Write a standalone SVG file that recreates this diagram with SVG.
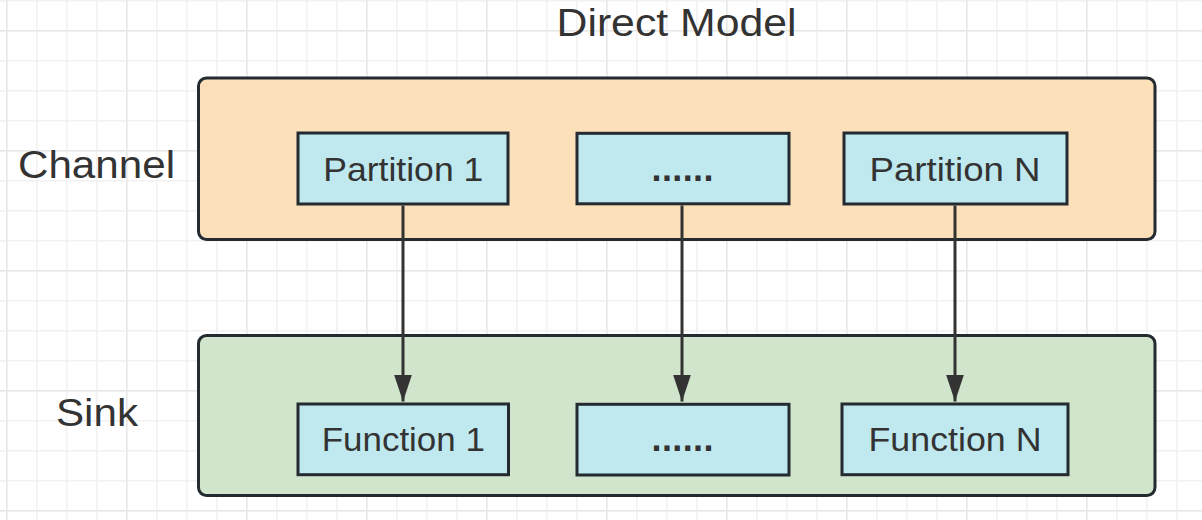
<svg xmlns="http://www.w3.org/2000/svg" width="1202" height="520" viewBox="0 0 1202 520">
  <defs>
    <pattern id="gridMinor" patternUnits="userSpaceOnUse" x="6" y="0" width="30" height="30">
      <path d="M0.75 0 V30 M0 0.75 H30" fill="none" stroke="#f1f1f1" stroke-width="1.5"/>
    </pattern>
    <pattern id="gridMajor" patternUnits="userSpaceOnUse" x="6" y="30" width="120" height="120">
      <path d="M0.75 0 V120 M0 0.75 H120" fill="none" stroke="#e8e8e8" stroke-width="1.5"/>
    </pattern>
    <marker id="arrow" markerUnits="userSpaceOnUse" markerWidth="28" markerHeight="20" refX="27" refY="9" orient="auto">
      <path d="M0 0 L27 9 L0 18 Z" fill="#333333"/>
    </marker>
    <style>
      .group { stroke: #232a30; stroke-width: 3; }
      .channel { fill: #fbe0ba; }
      .sink { fill: #d0e5cc; }
      .box { fill: #bfe9ef; stroke: #232a30; stroke-width: 3; }
      .label { font-family: "Liberation Sans", Arial, sans-serif; fill: #333333; text-anchor: middle; }
      .boxtext { font-size: 33px; }
      .side { font-size: 38px; text-anchor: start; }
      .dots { font-size: 36px; font-weight: bold; }
      .conn { stroke: #333333; stroke-width: 3; fill: none; }
    </style>
  </defs>

  <rect x="0" y="0" width="1202" height="520" fill="#ffffff"/>
  <rect x="0" y="0" width="1202" height="520" fill="url(#gridMinor)"/>
  <rect x="0" y="0" width="1202" height="520" fill="url(#gridMajor)"/>

  <text id="title" class="label" x="676.5" y="36" font-size="39" textLength="240" lengthAdjust="spacingAndGlyphs">Direct Model</text>

  <g id="channel">
    <rect class="group channel" x="198.5" y="78" width="956.5" height="161.5" rx="8"/>
    <text class="label side" x="18" y="177.5" textLength="157" lengthAdjust="spacingAndGlyphs">Channel</text>
  </g>

  <g id="sink">
    <rect class="group sink" x="198.5" y="335.5" width="956.5" height="160" rx="8"/>
    <text class="label side" x="56" y="425.7" textLength="82" lengthAdjust="spacingAndGlyphs">Sink</text>
  </g>

  <g id="partition1">
    <rect class="box" x="298" y="133" width="210" height="71"/>
    <text class="label boxtext" x="403.3" y="181" textLength="160" lengthAdjust="spacingAndGlyphs">Partition 1</text>
  </g>
  <g id="partitionMid">
    <rect class="box" x="577" y="133.3" width="212" height="70.5"/>
    <text class="label dots" x="682.5" y="181" textLength="62" lengthAdjust="spacing">......</text>
  </g>
  <g id="partitionN">
    <rect class="box" x="844" y="133" width="223" height="71"/>
    <text class="label boxtext" x="955" y="181" textLength="171" lengthAdjust="spacingAndGlyphs">Partition N</text>
  </g>

  <g id="function1">
    <rect class="box" x="298" y="404" width="210.5" height="70.7"/>
    <text class="label boxtext" x="403.3" y="450.7" textLength="163" lengthAdjust="spacingAndGlyphs">Function 1</text>
  </g>
  <g id="functionMid">
    <rect class="box" x="577" y="404.3" width="212" height="70.7"/>
    <text class="label dots" x="682.5" y="451" textLength="62" lengthAdjust="spacing">......</text>
  </g>
  <g id="functionN">
    <rect class="box" x="842" y="404" width="226" height="70.7"/>
    <text class="label boxtext" x="955" y="450.7" textLength="173" lengthAdjust="spacingAndGlyphs">Function N</text>
  </g>

  <g id="connectors">
    <line class="conn" x1="403" y1="205.5" x2="403" y2="401.5" marker-end="url(#arrow)"/>
    <line class="conn" x1="682" y1="205.5" x2="682" y2="401.5" marker-end="url(#arrow)"/>
    <line class="conn" x1="955" y1="205.5" x2="955" y2="401.5" marker-end="url(#arrow)"/>
  </g>
</svg>
